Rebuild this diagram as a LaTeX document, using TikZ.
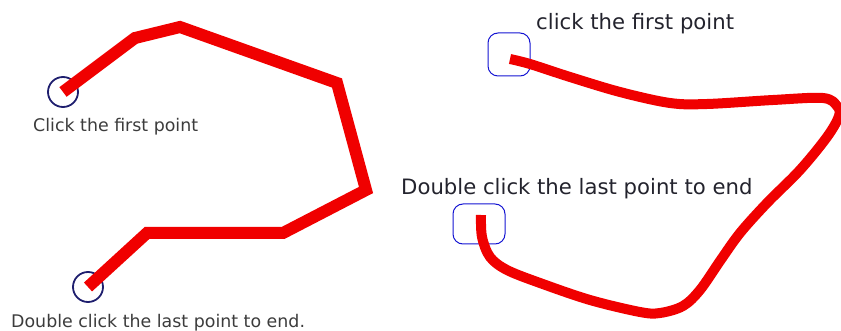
\documentclass[tikz,border=0pt]{standalone}
\usepackage{fontspec}
\setmainfont{DejaVu Sans}
\definecolor{navyring}{RGB}{30,30,110}
\definecolor{markblue}{RGB}{20,20,210}
\definecolor{inkred}{RGB}{240,0,0}
\definecolor{leftgray}{RGB}{60,60,60}
\definecolor{rightink}{RGB}{35,35,45}

\begin{document}
\begin{tikzpicture}[x=1pt, y=-1pt,
    ring/.style={draw=navyring, line width=1.8pt, circle, minimum size=30pt, inner sep=0pt},
    pickbox/.style={draw=markblue, line width=1pt, rounded corners=10pt, inner sep=0pt},
    stroke/.style={draw=inkred, line join=round},
    lefttxt/.style={font=\fontsize{17.4}{20}\selectfont, text=leftgray, anchor=base west, inner sep=0pt},
    righttxt/.style={font=\fontsize{21.2}{24}\selectfont, text=rightink, anchor=base west, inner sep=0pt}]
    \useasboundingbox (0,0) rectangle (841,331);
    \node[ring] (first1) at (63,92) {};
    \node[ring] (last1) at (88,287) {};
    \draw[stroke, line width=12pt, line join=miter] (first1.center) -- (135,38) -- (180,27) -- (337,83)
        -- (366,190) -- (283,233) -- (147,233) -- (last1.center);
    \node[lefttxt] (hint1) at (33,132) {Click the first point};
    \node[lefttxt] (done1) at (11,327) {Double click the last point to end.};
    \node[pickbox, minimum width=42pt, minimum height=43pt] (first2) at (509,54.5) {};
    \node[pickbox, minimum width=52pt, minimum height=40pt] (last2) at (479,224) {};
    \coordinate (start2) at (510,59);
    \coordinate (end2) at (481,215);
    \draw[stroke, line width=10pt] plot[smooth, tension=0.55] coordinates {(start2) (530,64) (570,77) (620,92)
        (670,103) (707,104) (773,100) (823,98) (837,106) (839,116) (827,137) (800,170) (767,203) (740,233)
        (720,261) (700,290) (683,306) (660,313) (640,312) (590,300) (540,283) (507,270) (490,257) (482,237) (end2)};
    \node[righttxt] (hint2) at (536,29.5) {click the first point};
    \node[righttxt] (done2) at (401,195) {Double click the last point to end};
\end{tikzpicture}
\end{document}
